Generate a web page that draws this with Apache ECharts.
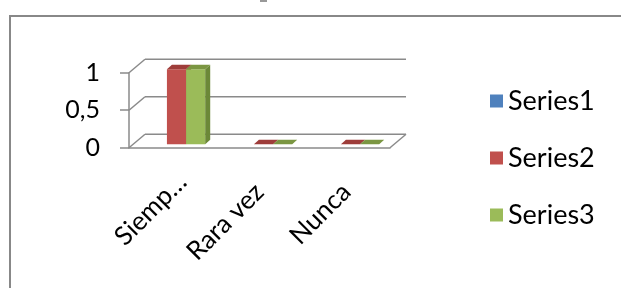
<!DOCTYPE html>
<html>
<head>
<meta charset="utf-8">
<script src="https://cdn.jsdelivr.net/npm/echarts@6/dist/echarts.min.js"></script>
<style>
  html, body { margin: 0; padding: 0; background: #fff; }
  #chart_show { width: 621px; height: 288px; }
</style>
</head>
<body>
<div id="chart_show"></div>
<script>
// datos del grafico
var categories = ['Siemp…', 'Rara vez', 'Nunca'];
var seriesNames = ['Series1', 'Series2', 'Series3'];
var series1 = [null, null, null];
var series2 = [1, 0, 0];
var series3 = [1, 0, 0];
var yTicks = [0, 0.5, 1];

var colors = ['#4F81BD', '#C0504D', '#9BBB59'];
var topColors = ['#3E6798', '#9E3D3A', '#7B9642'];
var sideColors = ['#395F8C', '#963A37', '#6C8838'];

// profundidad del "3D"
var DX = 16, DY = -13.5;    // pared del fondo
var BX = 4, BY = -3.4;      // plano frontal de las barras
var PX = 5, PY = -4.5;      // profundidad de la barra
var BAR_FRAC = 0.22;
var lineColor = '#8a8a8a';

var oChart = echarts.init(document.getElementById('chart_show'));

function wallItem(params, api) {
    var v = api.value(1);
    var c = api.coord([0, v]);
    var band = api.size([1, 0])[0];
    var xl = c[0] - band / 2;
    var xr = xl + band * categories.length;
    var y = c[1];
    var st = { stroke: lineColor, lineWidth: 1.5, fill: null };
    var children = [
        { type: 'line', shape: { x1: xl, y1: y, x2: xl + DX, y2: y + DY }, style: st },
        { type: 'line', shape: { x1: xl + DX, y1: y + DY, x2: xr + DX, y2: y + DY }, style: st }
    ];
    if (v === 0) {
        children.push({ type: 'line', shape: { x1: xr, y1: y, x2: xr + DX, y2: y + DY }, style: st });
    }
    return { type: 'group', children: children };
}

function barRenderer(k) {
    return function (params, api) {
        var val = api.value(1);
        if (val == null || isNaN(val)) return;
        var base = api.coord([api.value(0), 0]);
        var top = api.coord([api.value(0), val]);
        var band = api.size([1, 0])[0];
        var bw = band * BAR_FRAC;
        var x0 = base[0] - 1.5 * bw + k * bw + BX;
        var yb = base[1] + BY;
        var yt = top[1] + BY;
        var children = [];
        if (yb - yt > 0.5) {
            children.push({ type: 'rect', shape: { x: x0, y: yt, width: bw, height: yb - yt }, style: { fill: colors[k] } });
            children.push({ type: 'polygon', shape: { points: [[x0 + bw, yt], [x0 + bw + PX, yt + PY], [x0 + bw + PX, yb + PY], [x0 + bw, yb]] }, style: { fill: sideColors[k] } });
        }
        children.push({ type: 'polygon', shape: { points: [[x0, yt], [x0 + bw, yt], [x0 + bw + PX, yt + PY], [x0 + PX, yt + PY]] }, style: { fill: topColors[k] } });
        return { type: 'group', children: children };
    };
}

var allValues = [series1, series2, series3];
var seriesList = [{
    name: 'walls',
    type: 'custom',
    renderItem: wallItem,
    data: yTicks.map(function (v) { return [0, v]; }),
    encode: { x: 0, y: 1 },
    silent: true,
    z: 1
}];
for (var k = 0; k < seriesNames.length; k++) {
    seriesList.push({
        name: seriesNames[k],
        type: 'custom',
        renderItem: barRenderer(k),
        itemStyle: { color: colors[k] },
        data: allValues[k].map(function (v, i) { return [i, v == null ? '-' : v]; }),
        encode: { x: 0, y: 1 },
        z: 3
    });
}

// la primera etiqueta (recortada) sale algo mas a la derecha en el original
var xAxisData = categories.map(function (c, i) {
    return i === 0 ? { value: c, textStyle: { padding: [0, -14, 0, 0] } } : c;
});

var option = {
    animation: false,
    textStyle: { fontFamily: 'Lato', color: '#000' },
    graphic: [
        { type: 'rect', shape: { x: 10, y: 16, width: 700, height: 400 }, style: { fill: null, stroke: '#888', lineWidth: 2 } },
        { type: 'rect', shape: { x: 260, y: 0, width: 7, height: 2 }, style: { fill: '#999' } }
    ],
    legend: {
        data: seriesNames,
        orient: 'vertical',
        left: 485,
        top: 80,
        icon: 'rect',
        itemWidth: 13,
        itemHeight: 13,
        itemGap: 25,
        itemTextGap: 8,
        textStyle: { fontSize: 27, lineHeight: 32, fontFamily: 'Lato', color: '#000' }
    },
    grid: { left: 129, top: 72.7, width: 261, height: 75 },
    xAxis: {
        type: 'category',
        data: xAxisData,
        axisLine: { lineStyle: { color: lineColor, width: 1.5 } },
        axisTick: { length: 6, lineStyle: { color: lineColor, width: 1.5 } },
        axisLabel: { rotate: 45, fontSize: 26, color: '#000', margin: 40, interval: 0 }
    },
    yAxis: {
        type: 'value',
        min: 0,
        max: 1,
        interval: 0.5,
        axisLine: { show: true, lineStyle: { color: lineColor, width: 1.5 } },
        axisTick: { show: true, length: 9, lineStyle: { color: lineColor, width: 1.5 } },
        splitLine: { show: false },
        axisLabel: {
            fontSize: 25,
            color: '#000',
            margin: 29,
            formatter: function (v) { return String(v).replace('.', ','); }
        }
    },
    series: seriesList
};
oChart.setOption(option);
</script>
</body>
</html>
